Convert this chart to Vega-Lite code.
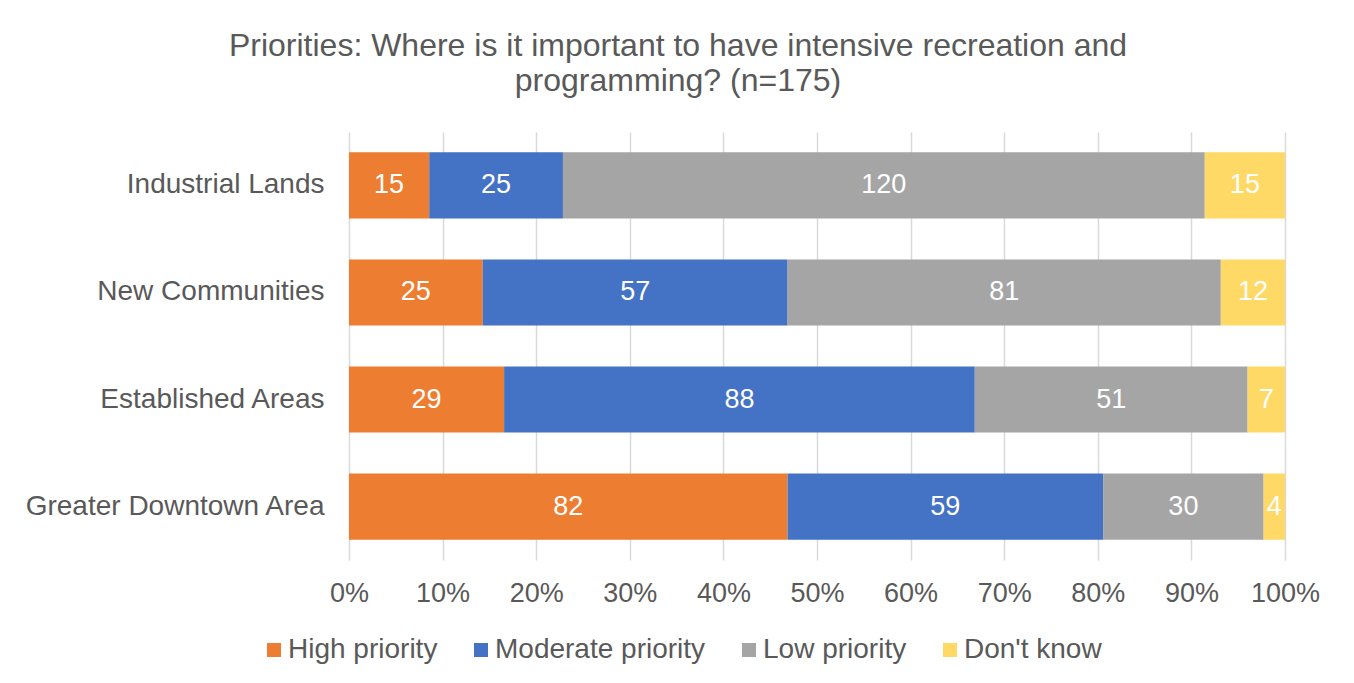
{
  "$schema": "https://vega.github.io/schema/vega-lite/v6.json",
  "width": 936,
  "height": 428,
  "autosize": {"type": "none"},
  "padding": {"left": 349, "top": 132, "right": 69, "bottom": 123},
  "background": "white",
  "title": {
    "text": ["Priorities: Where is it important to have intensive recreation and", "programming? (n=175)"],
    "fontSize": 32,
    "font": "Liberation Sans",
    "fontWeight": "normal",
    "color": "#595959",
    "anchor": "middle",
    "frame": "group",
    "dx": -139,
    "offset": 34,
    "lineHeight": 35
  },
  "data": {
    "values": [
      {"Area": "Industrial Lands", "Priority": "High priority", "o": 1, "Count": 15},
      {"Area": "Industrial Lands", "Priority": "Moderate priority", "o": 2, "Count": 25},
      {"Area": "Industrial Lands", "Priority": "Low priority", "o": 3, "Count": 120},
      {"Area": "Industrial Lands", "Priority": "Don't know", "o": 4, "Count": 15},
      {"Area": "New Communities", "Priority": "High priority", "o": 1, "Count": 25},
      {"Area": "New Communities", "Priority": "Moderate priority", "o": 2, "Count": 57},
      {"Area": "New Communities", "Priority": "Low priority", "o": 3, "Count": 81},
      {"Area": "New Communities", "Priority": "Don't know", "o": 4, "Count": 12},
      {"Area": "Established Areas", "Priority": "High priority", "o": 1, "Count": 29},
      {"Area": "Established Areas", "Priority": "Moderate priority", "o": 2, "Count": 88},
      {"Area": "Established Areas", "Priority": "Low priority", "o": 3, "Count": 51},
      {"Area": "Established Areas", "Priority": "Don't know", "o": 4, "Count": 7},
      {"Area": "Greater Downtown Area", "Priority": "High priority", "o": 1, "Count": 82},
      {"Area": "Greater Downtown Area", "Priority": "Moderate priority", "o": 2, "Count": 59},
      {"Area": "Greater Downtown Area", "Priority": "Low priority", "o": 3, "Count": 30},
      {"Area": "Greater Downtown Area", "Priority": "Don't know", "o": 4, "Count": 4}
    ]
  },
  "encoding": {
    "y": {
      "field": "Area",
      "type": "nominal",
      "sort": ["Industrial Lands", "New Communities", "Established Areas", "Greater Downtown Area"],
      "scale": {"paddingInner": 0.383, "paddingOuter": 0.19},
      "axis": {
        "title": null,
        "ticks": false,
        "domain": false,
        "labelPadding": 25,
        "labelLimit": 400,
        "labelFontSize": 28,
        "labelColor": "#595959",
        "labelFont": "Liberation Sans"
      }
    },
    "x": {
      "field": "Count",
      "type": "quantitative",
      "stack": "normalize",
      "scale": {"domain": [0, 1], "nice": false},
      "axis": {
        "title": null,
        "format": ".0%",
        "values": [0, 0.1, 0.2, 0.3, 0.4, 0.5, 0.6, 0.7, 0.8, 0.9, 1],
        "ticks": false,
        "domain": false,
        "grid": true,
        "gridColor": "#D9D9D9",
        "gridWidth": 1.5,
        "labelPadding": 20,
        "labelFontSize": 27,
        "labelColor": "#595959",
        "labelFont": "Liberation Sans",
        "labelFlush": false
      }
    },
    "order": {"field": "o", "type": "quantitative"}
  },
  "layer": [
    {
      "mark": {"type": "bar"},
      "encoding": {
        "color": {
          "field": "Priority",
          "type": "nominal",
          "scale": {
            "domain": ["High priority", "Moderate priority", "Low priority", "Don't know"],
            "range": ["#ED7D31", "#4472C4", "#A5A5A5", "#FFD966"]
          },
          "legend": {
            "title": null,
            "orient": "none",
            "direction": "horizontal",
            "legendX": -89,
            "legendY": 504,
            "padding": 0,
            "symbolType": "square",
            "symbolSize": 196,
            "symbolStrokeWidth": 0,
            "symbolOpacity": 1,
            "labelFontSize": 28,
            "labelColor": "#595959",
            "labelFont": "Liberation Sans",
            "labelOffset": 0,
            "columnPadding": 29,
            "labelLimit": 400
          }
        }
      }
    },
    {
      "mark": {"type": "text", "color": "white", "fontSize": 27, "font": "Liberation Sans", "baseline": "middle", "align": "center"},
      "encoding": {
        "x": {"field": "Count", "type": "quantitative", "stack": "normalize", "bandPosition": 0.5},
        "text": {"field": "Count", "type": "quantitative"}
      }
    }
  ],
  "config": {
    "view": {"stroke": null},
    "font": "Liberation Sans"
  }
}
